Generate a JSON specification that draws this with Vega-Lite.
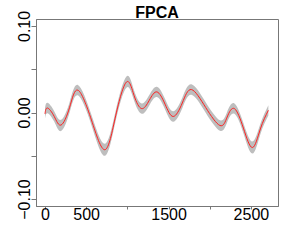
{
  "$schema": "https://vega.github.io/schema/vega-lite/v6.json",
  "width": 242,
  "height": 187,
  "autosize": "none",
  "padding": {"left": 36, "top": 19, "right": 11, "bottom": 34},
  "background": "white",
  "title": {"text": "FPCA", "font": "Liberation Sans", "fontSize": 16, "fontWeight": "bold", "color": "black", "anchor": "middle", "baseline": "alphabetic", "offset": 4, "dy": 28, "frame": "group"},
  "config": {
    "view": {"stroke": "#777", "strokeWidth": 1},
    "axis": {"grid": false, "domainColor": "#777", "tickColor": "#777", "labelFont": "Liberation Sans", "labelFontSize": 16, "labelColor": "black", "labelOverlap": false, "labelFlush": false, "title": null}
  },
  "data": {"values": [
    {"x": 0, "m": -0.0015, "lo": -0.0075, "hi": 0.0045},
    {"x": 30, "m": 0.0052, "lo": -0.0008, "hi": 0.0112},
    {"x": 112, "m": -0.0045, "lo": -0.0105, "hi": 0.0015},
    {"x": 195, "m": -0.0145, "lo": -0.0215, "hi": -0.0085},
    {"x": 298, "m": 0.0056, "lo": -0.0004, "hi": 0.0116},
    {"x": 400, "m": 0.0258, "lo": 0.0198, "hi": 0.0318},
    {"x": 564, "m": -0.0086, "lo": -0.0146, "hi": -0.0026},
    {"x": 728, "m": -0.043, "lo": -0.050, "hi": -0.036},
    {"x": 858, "m": -0.0039, "lo": -0.0099, "hi": 0.0021},
    {"x": 989, "m": 0.0352, "lo": 0.0287, "hi": 0.0417},
    {"x": 1081, "m": 0.0198, "lo": 0.0138, "hi": 0.0258},
    {"x": 1174, "m": 0.0045, "lo": -0.0015, "hi": 0.0105},
    {"x": 1266, "m": 0.0141, "lo": 0.0081, "hi": 0.0201},
    {"x": 1359, "m": 0.0238, "lo": 0.0178, "hi": 0.0298},
    {"x": 1458, "m": 0.0096, "lo": 0.0036, "hi": 0.0156},
    {"x": 1557, "m": -0.0046, "lo": -0.0106, "hi": 0.0014},
    {"x": 1667, "m": 0.011, "lo": 0.005, "hi": 0.017},
    {"x": 1778, "m": 0.0265, "lo": 0.0205, "hi": 0.0325},
    {"x": 1951, "m": 0.0058, "lo": -0.0002, "hi": 0.0118},
    {"x": 2124, "m": -0.015, "lo": -0.021, "hi": -0.009},
    {"x": 2212, "m": -0.0052, "lo": -0.0112, "hi": 0.0008},
    {"x": 2300, "m": 0.0045, "lo": -0.0015, "hi": 0.0105},
    {"x": 2409, "m": -0.018, "lo": -0.024, "hi": -0.012},
    {"x": 2518, "m": -0.0405, "lo": -0.0475, "hi": -0.0335},
    {"x": 2615, "m": -0.019, "lo": -0.025, "hi": -0.013},
    {"x": 2712, "m": 0.0025, "lo": -0.0035, "hi": 0.0085}
  ]},
  "encoding": {
    "x": {"field": "x", "type": "quantitative",
      "scale": {"domain": [-109, 2829], "nice": false, "zero": false},
      "axis": {"values": [0, 500, 1000, 1500, 2000, 2500], "format": "d", "tickSize": 3, "labelBaseline": "alphabetic", "labelPadding": 10, "labelAlign": "center",
        "labelExpr": "datum.value == 1000 || datum.value == 2000 ? '' : datum.label"}}
  },
  "layer": [
    {"mark": {"type": "area", "color": "#bebebe", "interpolate": "natural"},
      "encoding": {
        "y": {"field": "lo", "type": "quantitative",
          "scale": {"domain": [-0.108, 0.108], "nice": false, "zero": false},
          "axis": {"values": [-0.1, -0.05, 0, 0.05, 0.1], "format": ".2f", "tickSize": 5, "labelPadding": 2, "labelAngle": -90, "labelAlign": "center", "labelBaseline": "alphabetic",
            "labelExpr": "datum.value == -0.05 || datum.value == 0.05 ? '' : datum.label"}},
        "y2": {"field": "hi"}
      }},
    {"mark": {"type": "line", "color": "#ff2020", "strokeWidth": 1, "interpolate": "natural"},
      "encoding": {"y": {"field": "m", "type": "quantitative"}}}
  ]
}
